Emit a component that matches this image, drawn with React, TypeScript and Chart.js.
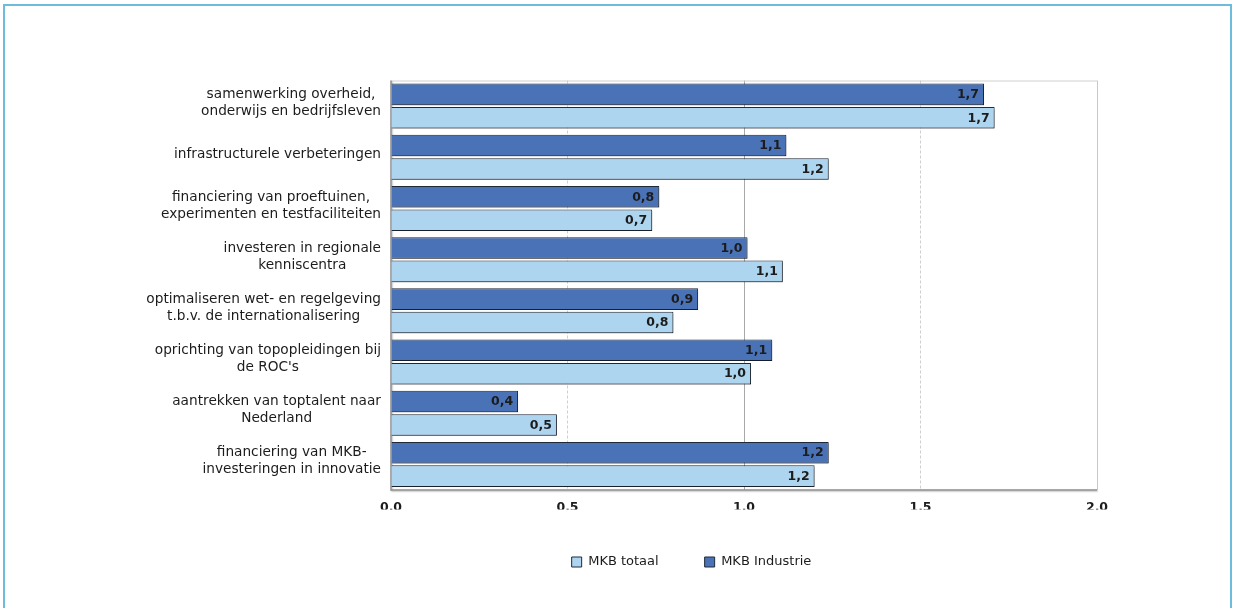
import React, { useEffect, useRef } from "react";
import { Chart, registerables } from "chart.js";

Chart.register(...registerables);

const categories: string[][] = [
  ["samenwerking overheid,", "onderwijs en bedrijfsleven"],
  ["infrastructurele verbeteringen"],
  ["financiering van proeftuinen,", "experimenten en testfaciliteiten"],
  ["investeren in regionale", "kenniscentra"],
  ["optimaliseren wet- en regelgeving", "t.b.v. de internationalisering"],
  ["oprichting van topopleidingen bij", "de ROC's"],
  ["aantrekken van toptalent naar", "Nederland"],
  ["financiering van MKB-", "investeringen in innovatie"],
];

const mkbIndustrie = [1.68, 1.12, 0.76, 1.01, 0.87, 1.08, 0.36, 1.24];
const mkbTotaal = [1.71, 1.24, 0.74, 1.11, 0.8, 1.02, 0.47, 1.2];
const xTickValues = [0, 0.5, 1, 1.5, 2];
const xTickLabels = ["0,0", "0,5", "1,0", "1,5", "2,0"];
const seriesNames = ["MKB Industrie", "MKB totaal"];

const FONT = "'DejaVu Sans', Verdana, sans-serif";
const TEXT = "#1c1c1c";
const fmt = (v: number) => v.toFixed(1).replace(".", ",");

const shadowPlugin = {
  id: "barShadow",
  beforeDatasetDraw(chart: any) {
    const c = chart.ctx;
    c.save();
    c.shadowColor = "rgba(0,0,0,0.32)";
    c.shadowOffsetX = 1.5;
    c.shadowOffsetY = 1.5;
    c.shadowBlur = 2;
  },
  afterDatasetDraw(chart: any) {
    chart.ctx.restore();
  },
};

const plotFramePlugin = {
  id: "plotFrame",
  beforeDatasetsDraw(chart: any) {
    const { ctx, chartArea: a } = chart;
    ctx.save();
    ctx.lineWidth = 1;
    ctx.strokeStyle = "#d0d0d0";
    ctx.beginPath();
    ctx.moveTo(a.left, a.top + 0.5);
    ctx.lineTo(a.right, a.top + 0.5);
    ctx.stroke();
    ctx.shadowColor = "rgba(0,0,0,0.25)";
    ctx.shadowOffsetX = 1;
    ctx.shadowOffsetY = 1;
    ctx.shadowBlur = 1.5;
    ctx.strokeStyle = "#8f8f8f";
    ctx.lineWidth = 1.5;
    ctx.beginPath();
    ctx.moveTo(a.left, a.top);
    ctx.lineTo(a.left, a.bottom);
    ctx.lineTo(a.right, a.bottom);
    ctx.stroke();
    ctx.restore();
  },
};

const labelsPlugin = {
  id: "textLabels",
  afterDatasetsDraw(chart: any) {
    const { ctx, chartArea: a } = chart;
    ctx.save();
    // value labels
    ctx.font = `bold 12.5px ${FONT}`;
    ctx.fillStyle = TEXT;
    ctx.textAlign = "right";
    ctx.textBaseline = "middle";
    chart.data.datasets.forEach((ds: any, di: number) => {
      const meta = chart.getDatasetMeta(di);
      meta.data.forEach((el: any, i: number) => {
        ctx.fillText(fmt(ds.data[i]), el.x - 5, el.y + 0.5);
      });
    });
    // category labels
    const y = chart.scales.y;
    ctx.font = `13.7px ${FONT}`;
    ctx.textAlign = "center";
    categories.forEach((lines, i) => {
      const cy = y.getPixelForValue(i) - 3;
      const maxW = Math.max(...lines.map((l) => ctx.measureText(l).width));
      const cx = a.left - 10 - maxW / 2;
      const lh = 17;
      const start = cy - ((lines.length - 1) * lh) / 2;
      lines.forEach((l, li) => ctx.fillText(l, cx, start + li * lh));
    });
    ctx.restore();
  },
};

export default function App() {
  const ref = useRef<HTMLCanvasElement | null>(null);

  useEffect(() => {
    if (!ref.current) return;
    const chart = new Chart(ref.current, {
      type: "bar",
      data: {
        labels: categories.map((c) => c.join(" ")),
        datasets: [
          {
            label: seriesNames[0],
            data: mkbIndustrie,
            backgroundColor: "#4a72b6",
            borderColor: "#1f2a3a",
            borderWidth: 1,
            barPercentage: 0.92,
            categoryPercentage: 0.915,
          },
          {
            label: seriesNames[1],
            data: mkbTotaal,
            backgroundColor: "#aed5ef",
            borderColor: "#1f2a3a",
            borderWidth: 1,
            barPercentage: 0.92,
            categoryPercentage: 0.915,
          },
        ],
      },
      options: {
        indexAxis: "y",
        responsive: false,
        animation: false,
        layout: { padding: { left: 286, right: 140, top: 80.5, bottom: 29.5 } },
        scales: {
          x: {
            type: "linear",
            min: 0,
            max: 2,
            afterBuildTicks: (s: any) => {
              s.ticks = xTickValues.map((v) => ({ value: v }));
            },
            afterFit: (s: any) => {
              s.height = 19.5;
            },
            ticks: {
              padding: 10,
              color: TEXT,
              font: { family: FONT, size: 12.5, weight: "bold" },
              callback: (_v: any, i: number) => xTickLabels[i],
            },
            grid: {
              drawTicks: false,
              color: (c: any) => {
                const v = c.tick ? c.tick.value : 0;
                if (v === 0) return "rgba(0,0,0,0)";
                if (v === 1) return "#a8a8a8";
                if (v === 2) return "#c8c8c8";
                return "#cfcfcf";
              },
              lineWidth: 1,
            },
            border: {
              display: false,
              dash: (c: any) => {
                const v = c && c.tick ? c.tick.value : null;
                return v === 0.5 || v === 1.5 ? [3, 2] : [];
              },
            },
          },
          y: {
            type: "category",
            ticks: { display: false },
            grid: { display: false, drawTicks: false },
            border: { display: false },
            afterFit: (s: any) => {
              s.width = 105;
            },
          },
        },
        plugins: {
          legend: {
            position: "bottom",
            reverse: true,
            labels: {
              color: TEXT,
              font: { family: FONT, size: 13 },
              boxWidth: 10,
              boxHeight: 10,
              padding: 46,
            },
          },
          tooltip: { enabled: false },
        },
      } as any,
      plugins: [plotFramePlugin, shadowPlugin, labelsPlugin],
    });
    return () => chart.destroy();
  }, []);

  return (
    <div
      style={{
        position: "fixed",
        left: 0,
        top: 0,
        width: 1237,
        height: 608,
        background: "#ffffff",
        overflow: "hidden",
      }}
    >
      <div
        style={{
          position: "absolute",
          left: 3,
          top: 4,
          width: 1229,
          height: 700,
          boxSizing: "border-box",
          borderTop: "2px solid #6cbcdc",
          borderLeft: "2px solid #6cbcdc",
          borderRight: "2px solid #6cbcdc",
        }}
      />
      <canvas
        ref={ref}
        width={1237}
        height={608}
        style={{ position: "absolute", left: 0, top: 0, width: 1237, height: 608 }}
      />
    </div>
  );
}
